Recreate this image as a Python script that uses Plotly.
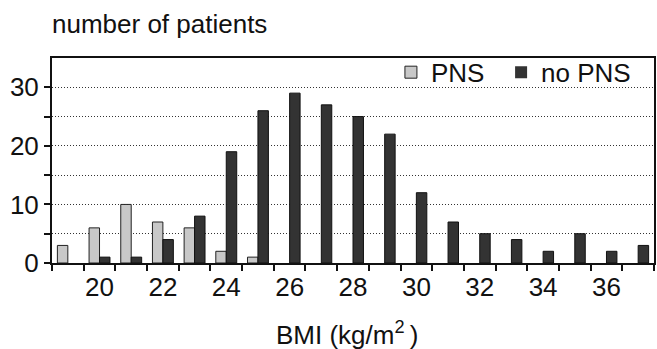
import plotly.graph_objects as go

bmi = list(range(19, 38))
pns = [3, 6, 10, 7, 6, 2, 1, 0, 0, 0, 0, 0, 0, 0, 0, 0, 0, 0, 0]
no_pns = [0, 1, 1, 4, 8, 19, 26, 29, 27, 25, 22, 12, 7, 5, 4, 2, 5, 2, 3]
tick_text = [str(v) if v % 2 == 0 else "" for v in bmi]

FONT = "Liberation Sans, Arial, sans-serif"

fig = go.Figure()
fig.add_trace(go.Bar(x=bmi, y=pns, name="PNS", legend="legend",
                     marker=dict(color="#c8c8c8",
                                 line=dict(color="#222", width=[1 if v > 0 else 0 for v in pns]))))
fig.add_trace(go.Bar(x=bmi, y=no_pns, name="no PNS", legend="legend2",
                     marker=dict(color="#333333",
                                 line=dict(color="#111", width=[1 if v > 0 else 0 for v in no_pns]))))

fig.update_layout(
    width=657, height=349,
    margin=dict(l=52, r=3, t=58, b=86),
    paper_bgcolor="white", plot_bgcolor="white",
    barmode="group", bargap=0.34, bargroupgap=0,
    font=dict(family=FONT, color="#111", size=26),
    title=dict(text="number of patients", x=0, xref="paper", xanchor="left",
               y=1 - 24 / 349, yanchor="middle", automargin=False,
               font=dict(family=FONT, size=26, color="#111")),
    legend=dict(x=0.563, xanchor="left", y=1.045, yanchor="top",
                bgcolor="rgba(0,0,0,0)", font=dict(size=26, family=FONT),
                itemwidth=30),
    legend2=dict(x=0.746, xanchor="left", y=1.045, yanchor="top",
                 bgcolor="rgba(0,0,0,0)", font=dict(size=26, family=FONT),
                 itemwidth=30),
    showlegend=True,
)

fig.update_xaxes(
    type="category", tickvals=bmi, ticktext=tick_text, tickson="boundaries",
    tickangle=0, automargin=False,
    ticks="outside", ticklen=6, tickwidth=1.5, tickcolor="#111",
    showline=True, linecolor="#111", linewidth=2, mirror=True,
    showgrid=False, tickfont=dict(size=26, family=FONT),
)
fig.update_yaxes(
    range=[0, 35], tickvals=[0, 10, 20, 30], automargin=False,
    ticks="outside", ticklen=6, tickwidth=1.5, tickcolor="#111",
    showline=True, linecolor="#111", linewidth=2, mirror=True,
    showgrid=True, gridcolor="#333", griddash="1px,2px", gridwidth=1,
    zeroline=False, tickfont=dict(size=26, family=FONT),
    minor=dict(tickvals=[5, 15, 25], ticks="outside", ticklen=6, tickwidth=1.5,
               tickcolor="#111", showgrid=True, gridcolor="#333",
               griddash="1px,2px", gridwidth=1),
)

fig.add_annotation(text="BMI (kg/m<sup>2 </sup>)", xref="paper", yref="paper",
                   x=0.49, y=(263 - 333) / 205, xanchor="center", yanchor="middle",
                   showarrow=False, font=dict(size=26, family=FONT, color="#111"))

fig.write_html("out.html", config={"displayModeBar": False},
               post_script="document.body.style.margin='0';document.body.style.overflow='hidden';")
